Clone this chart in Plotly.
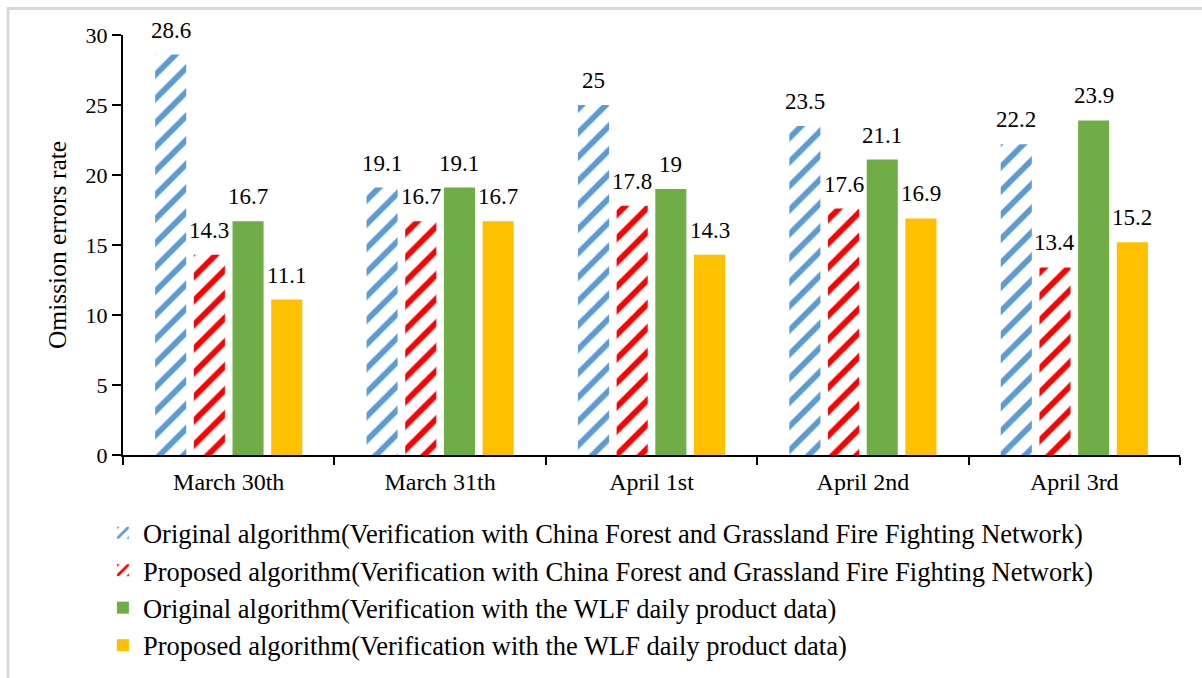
import plotly.graph_objects as go

# Chart data
dates = ["March 30th", "March 31th", "April 1st", "April 2nd", "April 3rd"]
orig_cffn = [28.6, 19.1, 25, 23.5, 22.2]
prop_cffn = [14.3, 16.7, 17.8, 17.6, 13.4]
orig_wlf = [16.7, 19.1, 19, 21.1, 23.9]
prop_wlf = [11.1, 16.7, 14.3, 16.9, 15.2]
series_names = [
    "Original algorithm(Verification with China Forest and Grassland Fire Fighting Network)",
    "Proposed algorithm(Verification with China Forest and Grassland Fire Fighting Network)",
    "Original algorithm(Verification with the WLF daily product data)",
    "Proposed algorithm(Verification with the WLF daily product data)",
]
y_ticks = [0, 5, 10, 15, 20, 25, 30]

FONT = "Liberation Serif, Times New Roman, serif"
BLUE, RED, GREEN, GOLD = "#5b9bd5", "#ff0000", "#70ad47", "#ffc000"

# bar geometry in category units
BAR_W = 0.147
SLOT = 0.183
centers = [(k - 1.5) * SLOT for k in range(4)]

series = [orig_cffn, prop_cffn, orig_wlf, prop_wlf]
styles = [
    dict(color="white", line=dict(width=0),
         pattern=dict(shape="/", fgcolor=BLUE, bgcolor="white", size=17, solidity=0.34, fillmode="replace")),
    dict(color="white", line=dict(width=0),
         pattern=dict(shape="/", fgcolor=RED, bgcolor="white", size=17, solidity=0.34, fillmode="replace")),
    dict(color=GREEN, line=dict(width=0)),
    dict(color=GOLD, line=dict(width=0)),
]

xs = list(range(len(dates)))
fig = go.Figure()
annotations = []
for k, (vals, name, mk) in enumerate(zip(series, series_names, styles)):
    fig.add_trace(go.Bar(
        x=xs, y=vals, name=name, marker=mk,
        width=BAR_W, offset=centers[k] - BAR_W / 2,
        legendgroup=f"g{k}", hoverinfo="y",
    ))
    for i, v in zip(xs, vals):
        annotations.append(dict(
            x=i + centers[k], y=v, xref="x", yref="y",
            text=f"{v:g}", showarrow=False, yanchor="bottom", yshift=10,
            font=dict(family=FONT, size=23, color="black"),
        ))

fig.update_layout(
    width=1202, height=678,
    paper_bgcolor="white", plot_bgcolor="white",
    barmode="overlay",
    margin=dict(l=123, r=22, t=35, b=223, autoexpand=False),
    font=dict(family=FONT, color="black"),
    showlegend=True,
    legend=dict(
        x=-0.019, y=-0.1286, xanchor="left", yanchor="top",
        font=dict(family=FONT, size=26.5, color="black"),
        traceorder="grouped", tracegroupgap=0,
        bgcolor="rgba(0,0,0,0)",
    ),
    annotations=annotations,
    shapes=[dict(
        type="rect", xref="paper", yref="paper",
        x0=-0.1088, x1=1.06, y0=-0.7, y1=1.0631,
        line=dict(color="#d9d9d9", width=3), fillcolor="rgba(0,0,0,0)",
    )],
)

fig.update_xaxes(
    range=[-0.5, len(dates) - 0.5],
    tickmode="array", tickvals=xs, ticktext=dates,
    ticks="outside", ticklen=4, tickcolor="rgba(0,0,0,0)",
    tickfont=dict(family=FONT, size=24, color="black"),
    showline=True, linecolor="black", linewidth=2,
    showgrid=False, zeroline=False,
    minor=dict(tickmode="array", tickvals=[x - 0.5 for x in range(len(dates) + 1)],
               ticks="outside", ticklen=8, tickcolor="black", tickwidth=2, showgrid=False),
)
fig.update_yaxes(
    range=[0, 30],
    tickmode="array", tickvals=y_ticks,
    ticks="outside", ticklen=9, tickwidth=2, tickcolor="black",
    tickfont=dict(family=FONT, size=22, color="black"),
    showline=True, linecolor="black", linewidth=2,
    showgrid=False, zeroline=False,
    title=dict(text="Omission errors rate", font=dict(family=FONT, size=25.5, color="black"), standoff=12),
)

fig.write_html("out.html")
